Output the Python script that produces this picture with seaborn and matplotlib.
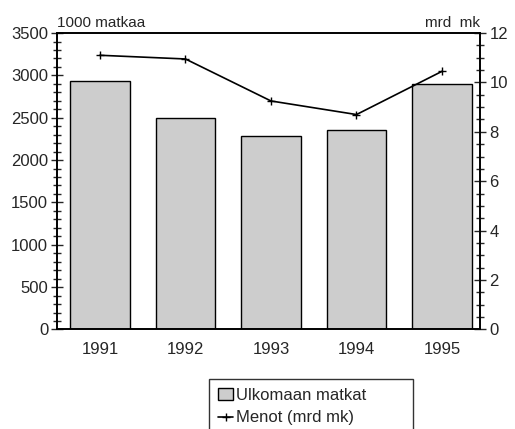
import matplotlib
matplotlib.use("Agg")
import matplotlib.pyplot as plt
import seaborn as sns
import pandas as pd
from matplotlib.ticker import MultipleLocator

# ---------------- data ----------------
years = ['1991', '1992', '1993', '1994', '1995']
trips = [2930, 2500, 2280, 2350, 2900]        # 1000 matkaa
spending = [11.1, 10.95, 9.25, 8.7, 10.45]     # mrd mk

df = pd.DataFrame({'Vuosi': years, 'Matkat': trips, 'Menot': spending})

sns.set_style("white")
plt.rcParams['font.family'] = ['Liberation Sans', 'DejaVu Sans']

fig = plt.figure(figsize=(5.15, 4.29), dpi=100)
ax = fig.add_axes([0.111, 0.232, 0.822, 0.691])

# ---------------- bars ----------------
sns.barplot(data=df, x='Vuosi', y='Matkat', color='#cdcdcd', edgecolor='black',
            linewidth=1.0, width=0.7, saturation=1, ax=ax, label='Ulkomaan matkat')
if ax.get_legend() is not None:
    ax.get_legend().remove()

ax.set_ylim(0, 3500)
ax.set_xlim(-0.5, 4.45)
ax.yaxis.set_major_locator(MultipleLocator(500))
ax.yaxis.set_minor_locator(MultipleLocator(100))
ax.set_xlabel('')
ax.set_ylabel('')
ax.tick_params(axis='y', which='major', direction='inout', length=9, width=1, labelsize=12, pad=2)
ax.tick_params(axis='y', which='minor', direction='inout', length=6, width=1)
ax.tick_params(axis='x', length=0, labelsize=12, pad=9)
for s in ax.spines.values():
    s.set_color('black')
    s.set_linewidth(1.2)
ax.text(0.0, 1.01, '1000 matkaa', transform=ax.transAxes, fontsize=11, ha='left', va='bottom')

# ---------------- line on right axis ----------------
ax2 = ax.twinx()
ax2.plot(range(len(years)), spending, color='black', lw=1.2, marker='+',
         markersize=6, label='Menot (mrd mk)')
ax2.set_ylim(0, 12)
ax2.yaxis.set_major_locator(MultipleLocator(2))
ax2.yaxis.set_minor_locator(MultipleLocator(0.5))
ax2.tick_params(axis='y', which='major', direction='inout', length=9, width=1, labelsize=12, pad=2)
ax2.tick_params(axis='y', which='minor', direction='inout', length=6, width=1)
for s in ax2.spines.values():
    s.set_color('black')
    s.set_linewidth(1.2)
ax2.text(1.0, 1.01, 'mrd  mk', transform=ax2.transAxes, fontsize=11, ha='right', va='bottom')

# ---------------- legend ----------------
h1, l1 = ax.get_legend_handles_labels()
h2, l2 = ax2.get_legend_handles_labels()
leg = fig.legend(h1[:1] + h2, l1[:1] + l2, loc='upper left',
                 bbox_to_anchor=(0.406, 0.0, 0.396, 0.117), mode='expand',
                 frameon=True, fancybox=False,
                 edgecolor='black', fontsize=12, handlelength=0.9, handletextpad=0.15,
                 borderpad=0.55, labelspacing=0.45, borderaxespad=0)
leg.get_frame().set_linewidth(1.0)

fig.savefig('out.png', dpi=100)
